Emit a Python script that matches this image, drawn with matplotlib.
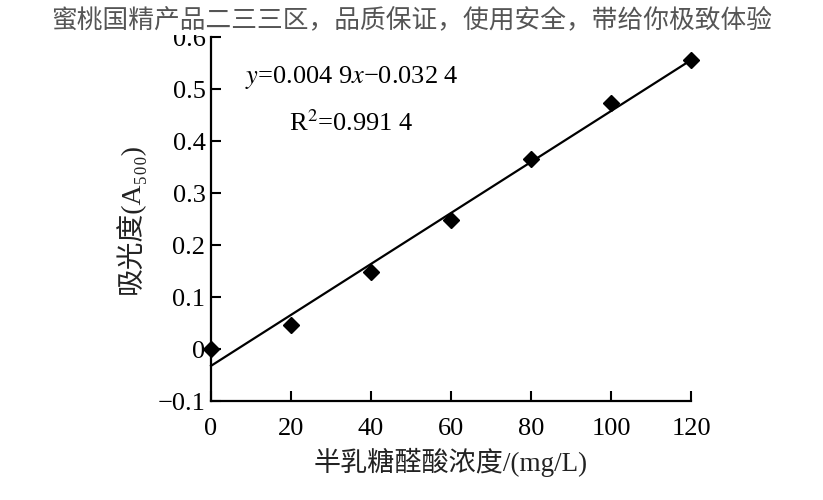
import numpy as np
import matplotlib
matplotlib.use('Agg')
import matplotlib.pyplot as plt

plt.rcParams['font.family'] = ['Liberation Serif', 'Noto Sans CJK SC', 'DejaVu Sans']
plt.rcParams['mathtext.fontset'] = 'stix'

# data
conc = [0, 20, 40, 60, 80, 100, 120]
absorb = [0.0, 0.046, 0.148, 0.249, 0.366, 0.474, 0.556]
slope = 0.0049
intercept = -0.0324
xticks = [0, 20, 40, 60, 80, 100, 120]
yticks = [-0.1, 0, 0.1, 0.2, 0.3, 0.4, 0.5, 0.6]
ytick_labels = ['\u22120.1', '0', '0.1', '0.2', '0.3', '0.4', '0.5', '0.6']

fig = plt.figure(figsize=(8.23, 5), dpi=100)
ax = fig.add_axes([0.2564, 0.198, 0.5832, 0.728])

xfit = np.array([conc[0], conc[-1]])
ax.plot(xfit, slope * xfit + intercept, color='black', lw=1.6, clip_on=False)
ax.plot(conc, absorb, 'D', color='black', ms=8, clip_on=False, zorder=5)

ax.set_xlim(0, 120)
ax.set_ylim(-0.1, 0.6)
ax.set_xticks(xticks)
ax.set_yticks(yticks)
ax.set_yticklabels(ytick_labels)
ax.tick_params(direction='in', length=7, width=1.5, labelsize=19, colors='black')
ax.tick_params(axis='x', pad=12)
ax.tick_params(axis='y', pad=4)
for s in ['top', 'right']:
    ax.spines[s].set_visible(False)
for s in ['left', 'bottom']:
    ax.spines[s].set_linewidth(1.6)

cjk = ['Liberation Serif', 'Noto Sans CJK SC', 'DejaVu Sans']
ax.set_xlabel('半乳糖醛酸浓度/(mg/L)', fontsize=19.5, labelpad=6,
              family=cjk, color='#222222')
ax.set_ylabel('吸光度(A\u2085\u2080\u2080)', fontsize=20, labelpad=9,
              family=cjk, color='#222222')

ax.text(8.5, 0.522, '$\\mathit{y}$=0.004 9$\\mathit{x}$\u22120.032 4',
        fontsize=19, va='center', ha='left')
ax.text(19.5, 0.435, 'R$^2$=0.991 4', fontsize=19, va='center', ha='left')

fig.text(0.5, 0.958, '蜜桃国精产品二三三区，品质保证，使用安全，带给你极致体验',
         ha='center', va='center', fontsize=18.5, color='#555555',
         family=['Noto Sans CJK SC', 'DejaVu Sans'],
         bbox=dict(facecolor='white', edgecolor='none', pad=1))

fig.savefig('out.png', dpi=100)
